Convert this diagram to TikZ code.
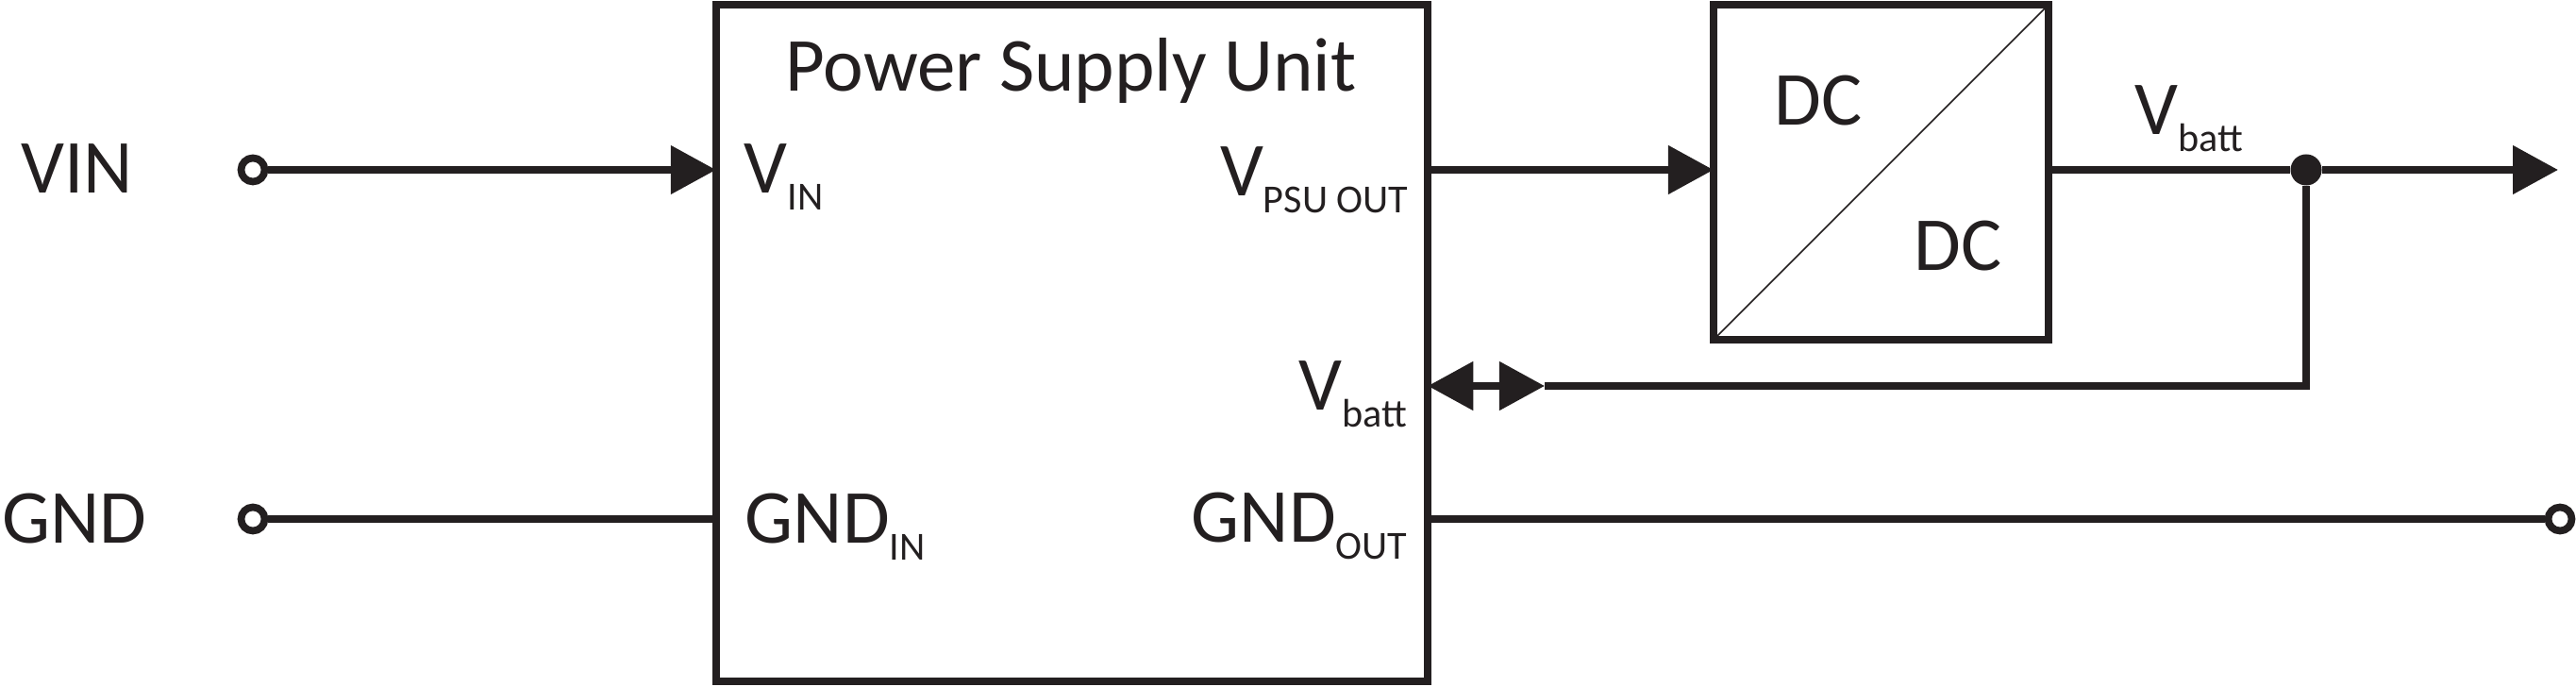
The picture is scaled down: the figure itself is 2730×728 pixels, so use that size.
\documentclass[tikz,border=0pt]{standalone}
\usepackage{fontspec}
\setmainfont{Carlito}
\usetikzlibrary{arrows.meta}
\definecolor{ink}{HTML}{231F20}
\newcommand{\mainfs}{\fontsize{23}{27}\selectfont}
\newcommand{\subfs}{\fontsize{12}{14}\selectfont}
\newcommand{\sublbl}[2]{#1\raisebox{-5pt}{\subfs #2}}
\begin{document}
\begin{tikzpicture}[x=0.01cm,y=-0.01cm,
  box/.style={draw=ink,line width=2.3pt,inner sep=0pt,outer sep=0pt},
  wire/.style={draw=ink,line width=2.3pt},
  tip/.style={-{Triangle[length=0.48cm,width=0.5cm]}},
  term/.style={circle,draw=ink,fill=white,line width=2.2pt,minimum size=0.25cm,inner sep=0pt},
  junc/.style={circle,fill=ink,minimum size=0.33cm,inner sep=0pt},
  txt/.style={text=ink,font=\mainfs,inner sep=0pt}]
\useasboundingbox (0,0) rectangle (2730,728);
% blocks
\node[box,minimum width=7.54cm,minimum height=7.17cm] (psu) at (1136,363.5) {};
\node[box,minimum width=3.55cm,minimum height=3.55cm] (dc) at (1993.5,182.5) {};
\draw[ink,line width=0.45pt] (dc.south west) -- (dc.north east);
% terminals and junction
\node[term] (vin) at (268,180) {};
\node[term] (gnd) at (268,550) {};
\node[term] (gndo) at (2713,550) {};
\node[junc] (j) at (2444,180) {};
\coordinate (out) at (2711,180);
\coordinate (corner) at (2444,409);
\coordinate (fbtip) at (1637,409);
% wires
\draw[wire,tip] (vin) -- (vin -| psu.west);
\draw[wire] (gnd) -- (gnd -| psu.west);
\draw[wire,tip] (vin -| psu.east) -- (vin -| dc.west);
\draw[wire] (vin -| dc.east) -- (j);
\draw[wire,tip] (j) -- (out);
\draw[wire] (j) -- (corner) -- (fbtip);
\draw[wire,{Triangle[length=0.48cm,width=0.5cm]}-{Triangle[length=0.48cm,width=0.5cm]}] (corner -| psu.east) -- (fbtip);
\draw[wire] (gndo) -- (gndo -| psu.east);
% texts
\node[txt,anchor=base west] (tvin) at (22,205) {VIN};
\node[txt,anchor=base west] (tgnd) at (2,576) {GND};
\node[txt,anchor=base] (tpsu) at (1135,97) {Power Supply Unit};
\node[txt,anchor=base west] (lvin) at (788,205) {\sublbl{V}{IN}};
\node[txt,anchor=base east] (lvpsu) at (1493,208) {\sublbl{V}{PSU OUT}};
\node[txt,anchor=base east] (lvbi) at (1492,435) {\sublbl{V}{batt}};
\node[txt,anchor=base west] (lgin) at (789,576) {\sublbl{GND}{IN}};
\node[txt,anchor=base east] (lgout) at (1492,575) {\sublbl{GND}{OUT}};
\node[txt,anchor=base west] (lvbo) at (2262,143) {\sublbl{V}{batt}};
\node[txt,anchor=base west] (dc1) at (1880,133) {DC};
\node[txt,anchor=base west] (dc2) at (2028,287) {DC};
\end{tikzpicture}
\end{document}
